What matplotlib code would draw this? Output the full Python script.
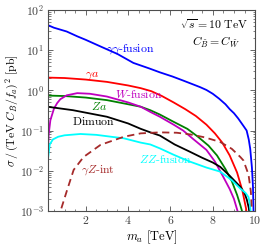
import math
import matplotlib
matplotlib.use('Agg')
import matplotlib.pyplot as plt
from matplotlib.ticker import FixedLocator, FuncFormatter, LogLocator, NullFormatter, MultipleLocator

plt.rcParams['mathtext.fontset'] = 'cm'
plt.rcParams['font.family'] = 'serif'

# gamma gamma fusion
m_aa = [0.2, 0.5, 1.1, 1.6, 2.0, 2.7, 3.5, 4.25, 5.0, 5.5, 6.1, 6.6, 7.0, 7.4, 7.7, 8.0, 8.3, 8.6, 8.8, 9.0, 9.2, 9.45, 9.6, 9.7, 9.77, 9.85, 9.9, 9.93]
xs_aa = [42, 36, 29, 22, 18, 12.3, 8.0, 4.8, 3.5, 2.8, 2.2, 1.75, 1.45, 1.2, 1.02, 0.82, 0.62, 0.45, 0.34, 0.27, 0.2, 0.13, 0.1, 0.06, 0.035, 0.012, 0.004, 0.0008]

# gamma a
m_ya = [0.2, 1.0, 2.0, 3.0, 4.0, 4.6, 5.1, 5.6, 6.15, 6.7, 7.2, 7.7, 8.1, 8.45, 8.8, 9.15, 9.4, 9.58, 9.62]
xs_ya = [2.07, 2.02, 1.85, 1.62, 1.32, 1.13, 0.95, 0.72, 0.5, 0.34, 0.23, 0.14, 0.085, 0.05, 0.024, 0.009, 0.0032, 0.0011, 0.0005]

# Z a
m_za = [0.2, 1.0, 2.0, 3.0, 4.0, 4.6, 5.05, 5.5, 6.1, 6.8, 7.3, 7.8, 8.2, 8.6, 8.9, 9.15, 9.3, 9.38, 9.42]
xs_za = [0.74, 0.72, 0.66, 0.57, 0.45, 0.39, 0.32, 0.25, 0.17, 0.11, 0.07, 0.042, 0.024, 0.011, 0.0055, 0.0025, 0.0014, 0.001, 0.0006]

# W fusion
m_ww = [0.2, 0.25, 0.33, 0.5, 0.65, 0.8, 1.1, 1.6, 2.2, 3.0, 4.0, 4.6, 5.05, 5.5, 6.15, 6.6, 7.1, 7.7, 8.1, 8.5, 8.8, 9.0, 9.17, 9.2]
xs_ww = [0.02, 0.08, 0.18, 0.35, 0.48, 0.6, 0.75, 0.85, 0.82, 0.70, 0.50, 0.39, 0.29, 0.22, 0.14, 0.10, 0.06, 0.033, 0.017, 0.007, 0.0035, 0.002, 0.001, 0.0007]

# Dimuon
m_mu = [0.2, 1.4, 3.0, 4.0, 4.6, 5.05, 5.5, 6.2, 6.9, 7.5, 8.0, 8.35, 8.8, 9.3, 9.5, 9.61, 9.7, 9.76]
xs_mu = [0.39, 0.32, 0.22, 0.15, 0.11, 0.09, 0.075, 0.045, 0.03, 0.021, 0.016, 0.0125, 0.0075, 0.004, 0.0028, 0.0019, 0.0012, 0.0007]

# ZZ fusion
m_zz = [0.2, 0.21, 0.22, 0.3, 0.45, 0.7, 1.0, 1.75, 2.5, 3.2, 3.8, 4.6, 5.05, 5.5, 6.15, 6.9, 7.7, 8.35, 8.9, 9.3, 9.55, 9.69, 9.76, 9.8]
xs_zz = [0.0005, 0.005, 0.02, 0.045, 0.06, 0.07, 0.076, 0.082, 0.078, 0.07, 0.064, 0.05, 0.045, 0.036, 0.025, 0.017, 0.012, 0.0095, 0.0058, 0.0036, 0.0028, 0.0022, 0.0014, 0.0008]

# gamma Z interference
m_yz = [0.75, 0.81, 1.12, 1.43, 1.9, 2.7, 3.8, 4.6, 5.5, 6.3, 6.94, 7.6, 8.35, 8.9, 9.3, 9.45, 9.69, 9.8, 9.85]
xs_yz = [0.0006, 0.001, 0.0033, 0.0105, 0.022, 0.044, 0.07, 0.085, 0.09, 0.088, 0.08, 0.068, 0.052, 0.035, 0.022, 0.018, 0.008, 0.003, 0.001]

y_decades = [-3, -2, -1, 0, 1, 2]
x_ticks = [2, 4, 6, 8, 10]


def main():
    fig = plt.figure(figsize=(2.66, 2.47), dpi=100)
    ax = fig.add_axes([0.179, 0.146, 0.780, 0.814])

    lw = 1.3
    ax.plot(m_aa, xs_aa, color='blue', lw=lw)
    ax.plot(m_ya, xs_ya, color='red', lw=lw)
    ax.plot(m_za, xs_za, color='green', lw=lw)
    ax.plot(m_ww, xs_ww, color='m', lw=lw)
    ax.plot(m_mu, xs_mu, color='k', lw=lw)
    ax.plot(m_zz, xs_zz, color='cyan', lw=lw)
    ax.plot(m_yz, xs_yz, color='brown', lw=lw, ls='--', dashes=(4, 2.5))

    ax.set_yscale('log')
    ax.set_xlim(0.2, 10)
    ax.set_ylim(1e-3, 1e2)

    # labels on the curves
    fs = 8.5
    ax.text(4.1, 10.5, r'$\gamma\gamma\mathrm{\text{-}fusion}$', color='blue', fontsize=fs, ha='center', va='center')
    ax.text(2.3, 2.5, r'$\gamma a$', color='red', fontsize=fs, ha='center', va='center')
    ax.text(4.5, 0.78, r'$W\mathrm{\text{-}fusion}$', color='m', fontsize=fs, ha='center', va='center')
    ax.text(2.65, 0.4, r'$Za$', color='green', fontsize=fs, ha='center', va='center')
    ax.text(2.37, 0.17, r'$\mathrm{Dimuon}$', color='k', fontsize=fs, ha='center', va='center')
    ax.text(2.58, 0.0102, r'$\gamma Z\mathrm{\text{-}int}$', color='brown', fontsize=fs, ha='center', va='center')
    ax.text(5.77, 0.0185, r'$ZZ\mathrm{\text{-}fusion}$', color='cyan', fontsize=fs, ha='center', va='center')

    ax.text(0.805, 0.925, r'$\sqrt{s} = 10\ \mathrm{TeV}$', transform=ax.transAxes, fontsize=fs, ha='center', va='center')
    ax.text(0.81, 0.838, r'$C_{\tilde{B}} = C_{\tilde{W}}$', transform=ax.transAxes, fontsize=fs, ha='center', va='center')

    ax.set_xlabel(r'$m_a\ [\mathrm{TeV}]$', fontsize=9, labelpad=1)
    ax.set_ylabel(r'$\sigma\,/\,(\mathrm{TeV}\ C_{\tilde{B}}/f_a)^2\ [\mathrm{pb}]$', fontsize=8.5, labelpad=-1)

    ax.xaxis.set_major_locator(FixedLocator(x_ticks))
    ax.xaxis.set_major_formatter(FuncFormatter(lambda v, p: r'$%d$' % v))
    ax.xaxis.set_minor_locator(MultipleLocator(0.5))
    ax.yaxis.set_major_locator(FixedLocator([10.0 ** d for d in y_decades]))
    ax.yaxis.set_major_formatter(FuncFormatter(lambda v, p: r'$10^{%d}$' % round(math.log10(v))))
    ax.yaxis.set_minor_locator(LogLocator(base=10, subs=range(2, 10)))
    ax.yaxis.set_minor_formatter(NullFormatter())

    ax.tick_params(which='both', direction='in', top=True, right=True, colors='0.3', labelcolor='0.25', labelsize=8.5, pad=2.5)
    ax.tick_params(which='major', length=3.5, width=0.6)
    ax.tick_params(which='minor', length=1.8, width=0.5)
    for s in ax.spines.values():
        s.set_color('0.3')
        s.set_linewidth(0.8)

    plt.savefig('out.png', dpi=100)


if __name__ == "__main__":
    main()
